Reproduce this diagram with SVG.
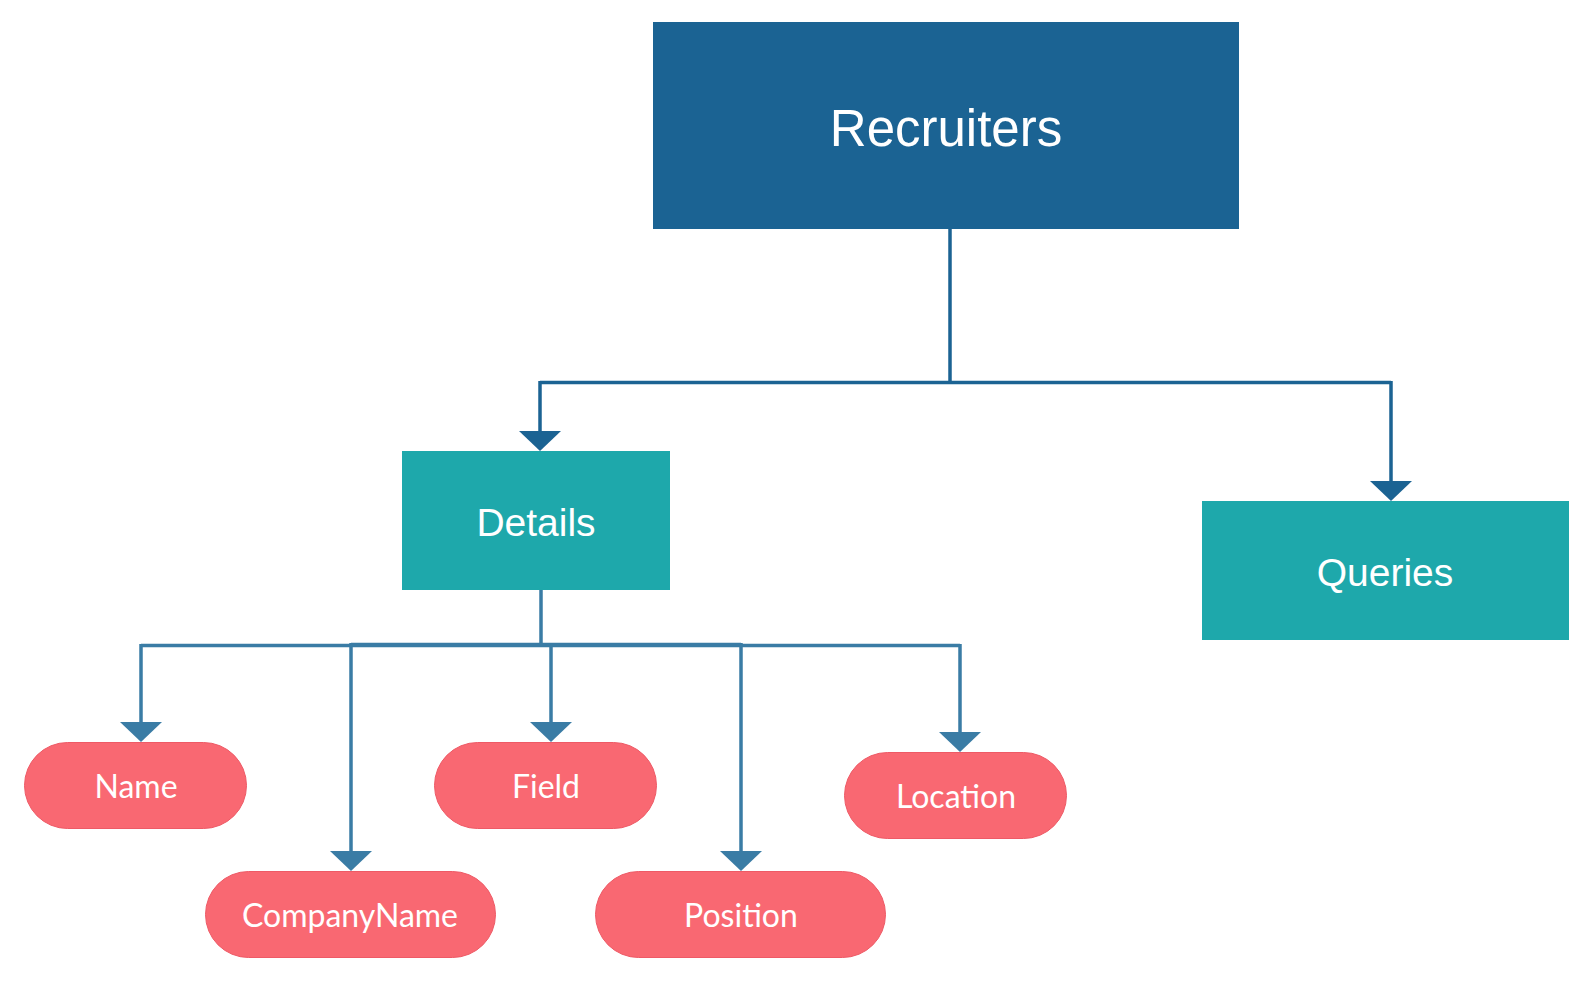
<svg xmlns="http://www.w3.org/2000/svg" width="1587" height="981" viewBox="0 0 1587 981">
<defs>
<style>
.box-dark{fill:#1b6393}
.box-teal{fill:#1ea8ab}
.pill{fill:#f96872;stroke:#ee5a66;stroke-width:1}
.t-box{font-family:"Liberation Sans",Arial,sans-serif;fill:#ffffff;text-anchor:middle}
.t-pill{font-family:Lato,"Open Sans",sans-serif;font-size:32px;fill:#ffffff;text-anchor:middle}
.c1{fill:none;stroke:#1b6393;stroke-width:3.5}
.c2{fill:none;stroke:#3a7ca5;stroke-width:3.5}
.a1{fill:#1b6393}
.a2{fill:#3a7ca5}
</style>
</defs>
<rect width="1587" height="981" fill="#ffffff"/>
<g id="connectors">
<path class="c1" d="M950 229 V382.5 M540 382.5 H1391 M540 381 V432 M1391 381 V482"/>
<polygon class="a1" points="519,431 561,431 540,451"/>
<polygon class="a1" points="1370,481 1412,481 1391,501"/>
<path class="c2" d="M541 590 V645.5 M141 645.5 H960 M141 644 V723 M551 644 V723 M960 644 V733"/>
<path class="c2" d="M351 644.5 H741 M351 643 V852 M741 643 V852"/>
<polygon class="a2" points="120,722 162,722 141,742"/>
<polygon class="a2" points="530,722 572,722 551,742"/>
<polygon class="a2" points="939,732 981,732 960,752"/>
<polygon class="a2" points="330,851 372,851 351,871"/>
<polygon class="a2" points="720,851 762,851 741,871"/>
</g>
<g id="recruiters">
<rect class="box-dark" x="653" y="22" width="586" height="207"/>
<text class="t-box" x="946" y="146" font-size="51">Recruiters</text>
</g>
<g id="details">
<rect class="box-teal" x="402" y="451" width="268" height="139"/>
<text class="t-box" x="536" y="536" font-size="39">Details</text>
</g>
<g id="queries">
<rect class="box-teal" x="1202" y="501" width="367" height="139"/>
<text class="t-box" x="1385" y="586" font-size="39">Queries</text>
</g>
<g id="name">
<rect class="pill" x="24.5" y="742.5" width="222" height="86" rx="43" ry="43"/>
<text class="t-pill" x="136" y="798">Name</text>
</g>
<g id="field">
<rect class="pill" x="434.5" y="742.5" width="222" height="86" rx="43" ry="43"/>
<text class="t-pill" x="546" y="798">Field</text>
</g>
<g id="location">
<rect class="pill" x="844.5" y="752.5" width="222" height="86" rx="43" ry="43"/>
<text class="t-pill" x="956" y="808">Location</text>
</g>
<g id="companyname">
<rect class="pill" x="205.5" y="871.5" width="290" height="86" rx="43" ry="43"/>
<text class="t-pill" x="350" y="927">CompanyName</text>
</g>
<g id="position">
<rect class="pill" x="595.5" y="871.5" width="290" height="86" rx="43" ry="43"/>
<text class="t-pill" x="741" y="927">Position</text>
</g>
</svg>
